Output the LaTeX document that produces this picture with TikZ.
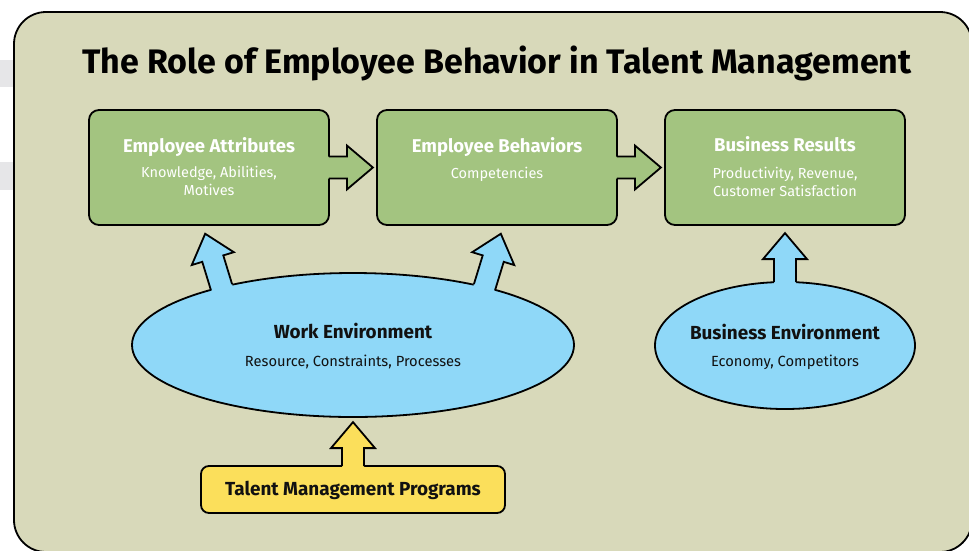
\documentclass[tikz,border=0pt]{standalone}
\usepackage{fontspec}
\setmainfont{Fira Sans}
\usetikzlibrary{calc,shapes.geometric}
\definecolor{panelbg}{HTML}{D8D9BA}
\definecolor{boxgreen}{HTML}{A3C480}
\definecolor{envblue}{HTML}{8FD8F8}
\definecolor{tmyellow}{HTML}{FBDF5B}
\definecolor{stripegray}{HTML}{E6E6E8}
\definecolor{textdark}{HTML}{111111}
\tikzset{
  outline/.style={draw=black,line width=1.8pt,line join=miter},
  gbox/.style={outline,fill=boxgreen,rounded corners=10pt,minimum width=240pt,minimum height=115pt,inner sep=0pt},
  envshape/.style={outline,fill=envblue,ellipse,inner sep=0pt},
  ybox/.style={outline,fill=tmyellow,rounded corners=8pt,minimum width=304pt,minimum height=47pt,inner sep=0pt},
  gtitle/.style={anchor=base,text=white,font=\fontsize{18.5}{20}\selectfont\bfseries},
  gsub/.style={anchor=base,text=white,align=center,font=\fontsize{14.5}{17.5}\selectfont},
  etitle/.style={anchor=base,text=textdark,font=\fontsize{18.9}{21}\selectfont\bfseries},
  esub/.style={anchor=base,text=textdark,font=\fontsize{14.7}{17}\selectfont},
}
\newcommand{\blockarrowup}[2]{%
  \fill[#2] (-11,8) -- (-11,{26-#1}) -- (-22,{26-#1}) -- (0,{-#1}) -- (22,{26-#1}) -- (11,{26-#1}) -- (11,8) -- cycle;
  \draw[outline] (-11,1) -- (-11,{26-#1}) -- (-22,{26-#1}) -- (0,{-#1}) -- (22,{26-#1}) -- (11,{26-#1}) -- (11,1);
}
\begin{document}
\begin{tikzpicture}[x=1pt,y=-1pt]
\useasboundingbox (0,0) rectangle (969,550);
\clip (0,0) rectangle (969,550);
\fill[white] (0,0) rectangle (969,550);
\fill[stripegray] (0,60) rectangle (20,87);
\fill[stripegray] (0,162) rectangle (20,190);
\draw[outline,fill=panelbg,rounded corners=32pt] (14,12) rectangle (972,552);

\node[anchor=base,text=black,font=\fontsize{34}{38}\selectfont\bfseries] (title) at (497,73)
  {The Role of Employee Behavior in Talent Management};

\node[gbox] (a) at (209,167.5) {};
\node[gbox] (b) at (497,167.5) {};
\node[gbox] (c) at (785,167.5) {};

\node[envshape,minimum width=442pt,minimum height=144pt] (we) at (353,345) {};
\node[envshape,minimum width=260pt,minimum height=127pt] (be) at (785,345.5) {};
\node[ybox] (ty) at (353,489.5) {};

% arrows between boxes
\begin{scope}[shift={(a.east)},rotate=-90] \blockarrowup{43}{boxgreen} \end{scope}
\begin{scope}[shift={(b.east)},rotate=-90] \blockarrowup{43}{boxgreen} \end{scope}
% environment arrows
\begin{scope}[shift={(be.north)}] \blockarrowup{48}{envblue} \end{scope}
\begin{scope}[shift={(we.156)},rotate=17] \blockarrowup{55}{envblue} \end{scope}
\begin{scope}[shift={(we.24)},rotate=-17] \blockarrowup{55}{envblue} \end{scope}
\begin{scope}[shift={(ty.north)}] \blockarrowup{43}{tmyellow} \end{scope}

% box texts
\node[gtitle] (at) at (209,152) {Employee Attributes};
\node[gsub] (as) at (209,195) {Knowledge, Abilities,\\Motives};
\node[gtitle] (bt) at (497,152) {Employee Behaviors};
\node[gsub] (bs) at (497,178) {Competencies};
\node[gtitle] (ct) at (785,151) {Business Results};
\node[gsub] (cs) at (785,196) {Productivity, Revenue,\\Customer Satisfaction};

\node[etitle] (wt) at (353,338) {Work Environment};
\node[esub] (ws) at (353,366) {Resource, Constraints, Processes};
\node[etitle] (bet) at (785,339) {Business Environment};
\node[esub] (bes) at (785,366) {Economy, Competitors};
\node[etitle] (tt) at (353,495) {Talent Management Programs};
\end{tikzpicture}
\end{document}
